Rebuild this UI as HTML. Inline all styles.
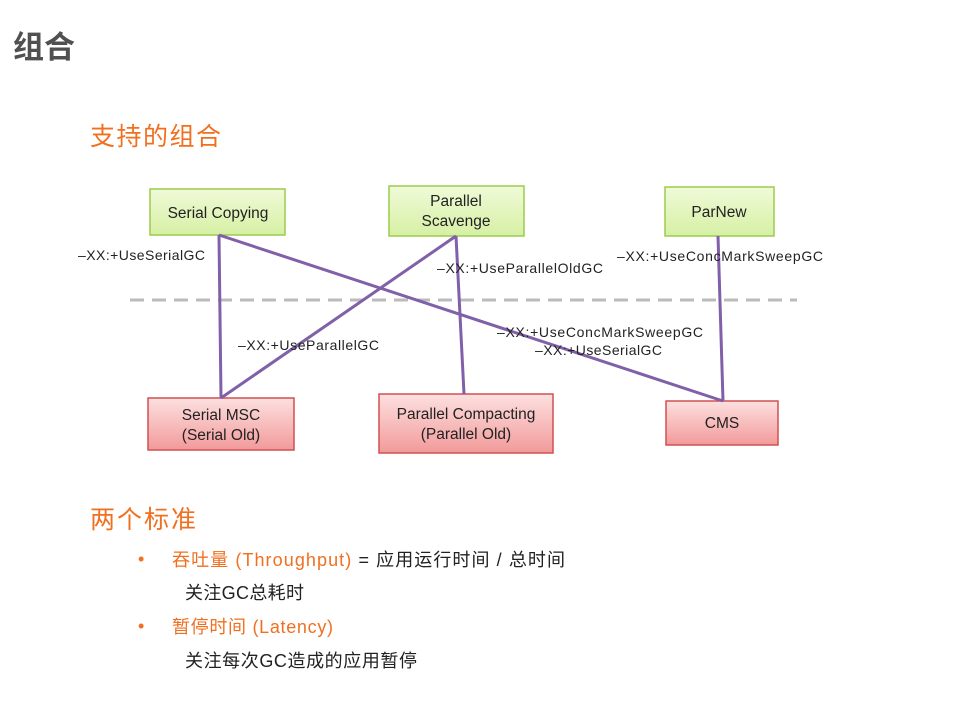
<!DOCTYPE html>
<html><head><meta charset="utf-8"><style>
body{margin:0;background:#fff;width:960px;height:720px;overflow:hidden}
svg text{font-family:"Liberation Sans","Noto Sans CJK SC",sans-serif}
</style></head><body>
<svg width="960" height="720" viewBox="0 0 960 720" xmlns="http://www.w3.org/2000/svg">
<defs>
<linearGradient id="g" x1="0" y1="0" x2="0" y2="1"><stop offset="0" stop-color="#f0fad8"/><stop offset="1" stop-color="#d6f0a4"/></linearGradient>
<linearGradient id="r" x1="0" y1="0" x2="0" y2="1"><stop offset="0" stop-color="#fde0e0"/><stop offset="1" stop-color="#f29a9a"/></linearGradient>
</defs>
<text x="13" y="58" font-size="31" font-weight="bold" fill="#505050" textLength="62">组合</text>
<text x="90" y="145" font-size="25" fill="#f07020" textLength="131">支持的组合</text>
<line x1="130" y1="300" x2="797" y2="300" stroke="#bbb" stroke-width="3" stroke-dasharray="14,8"/>
<rect x="150" y="189" width="135" height="46" fill="url(#g)" stroke="#9ccc4c" stroke-width="1.5"/>
<rect x="389" y="186" width="135" height="50" fill="url(#g)" stroke="#9ccc4c" stroke-width="1.5"/>
<rect x="665" y="187" width="109" height="49" fill="url(#g)" stroke="#9ccc4c" stroke-width="1.5"/>
<rect x="148" y="398" width="146" height="52" fill="url(#r)" stroke="#d05050" stroke-width="1.5"/>
<rect x="379" y="394" width="174" height="59" fill="url(#r)" stroke="#d05050" stroke-width="1.5"/>
<rect x="666" y="401" width="112" height="44" fill="url(#r)" stroke="#d05050" stroke-width="1.5"/>
<g stroke="#8060a8" stroke-width="3" fill="none">
<line x1="219" y1="235" x2="221" y2="398"/>
<line x1="219" y1="235" x2="723" y2="401"/>
<line x1="456" y1="236" x2="221" y2="398"/>
<line x1="456" y1="236" x2="464" y2="394"/>
<line x1="718" y1="236" x2="723" y2="401"/>
</g>
<g font-size="15.5" fill="#222" text-anchor="middle">
<text x="218" y="218">Serial Copying</text>
<text x="456" y="206">Parallel</text><text x="456" y="226">Scavenge</text>
<text x="719" y="217">ParNew</text>
<text x="221" y="420">Serial MSC</text><text x="221" y="440">(Serial Old)</text>
<text x="466" y="419">Parallel Compacting</text><text x="466" y="439">(Parallel Old)</text>
<text x="722" y="428">CMS</text>
</g>
<g font-size="14" fill="#222">
<text x="78" y="260" textLength="127">–XX:+UseSerialGC</text>
<text x="437" y="273" textLength="166">–XX:+UseParallelOldGC</text>
<text x="617" y="261" textLength="206">–XX:+UseConcMarkSweepGC</text>
<text x="238" y="350" textLength="141">–XX:+UseParallelGC</text>
<text x="497" y="337" textLength="206">–XX:+UseConcMarkSweepGC</text>
<text x="535" y="355" textLength="127">–XX:+UseSerialGC</text>
</g>
<text x="90" y="528" font-size="25" fill="#f07020" textLength="106">两个标准</text>
<g font-size="18">
<text x="138" y="565" fill="#f07020">•</text>
<text x="172" y="566" textLength="393"><tspan fill="#f07020">吞吐量 (Throughput)</tspan><tspan fill="#222"> = 应用运行时间 / 总时间</tspan></text>
<text x="185" y="599" fill="#222" textLength="119">关注GC总耗时</text>
<text x="138" y="632" fill="#f07020">•</text>
<text x="172" y="633" fill="#f07020" textLength="161">暂停时间 (Latency)</text>
<text x="185" y="667" fill="#222" textLength="232">关注每次GC造成的应用暂停</text>
</g>
</svg>
</body></html>
